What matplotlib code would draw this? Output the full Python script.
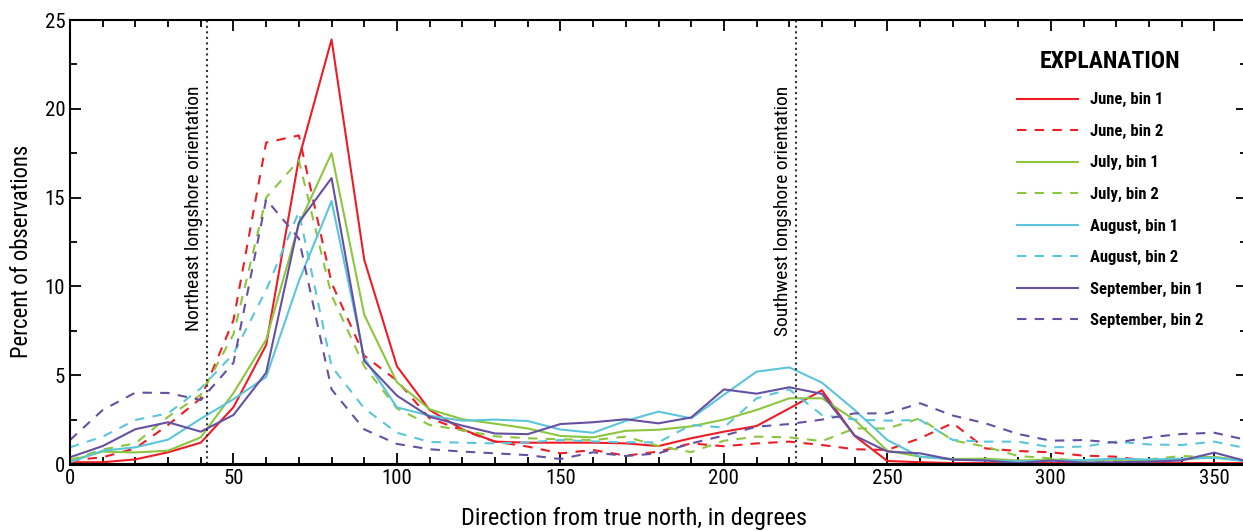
import numpy as np
import matplotlib
matplotlib.use('Agg')
import matplotlib.pyplot as plt
from matplotlib import font_manager
from matplotlib.ticker import MultipleLocator

# Use a condensed face if one is installed, else a narrow-ish one:
installed = set(f.name for f in font_manager.fontManager.ttflist)
condensed_dejavu = any(f.name == 'DejaVu Sans' and str(f.stretch) == 'condensed'
                       for f in font_manager.fontManager.ttflist)
font_choice = 'DejaVu Sans'
for name in ['Liberation Sans Narrow', 'Roboto Condensed', 'DejaVu Sans Condensed']:
    if name in installed:
        font_choice = name
        break
else:
    if condensed_dejavu:
        plt.rcParams['font.stretch'] = 'condensed'
    elif 'Roboto' in installed:
        font_choice = 'Roboto'
plt.rcParams['font.family'] = [font_choice, 'DejaVu Sans']

# Direction bins, every 10 degrees:
directions = list(range(0, 361, 10))

# Percent of observations:
june_bin1 = [0.1, 0.1, 0.26, 0.66, 1.2, 3.2, 6.7, 17.2, 23.9, 11.5,
             5.5, 3.04, 1.95, 1.26, 1.2, 1.2, 1.2, 1.16, 1.01, 1.45,
             1.82, 2.14, 3.13, 4.15, 1.58, 0.17, 0.1, 0.05, 0.05, 0.05,
             0.05, 0.05, 0.05, 0.05, 0.05, 0.05, 0.05]
june_bin2 = [0.2, 0.38, 0.88, 2.2, 3.7, 8.1, 18.1, 18.5, 10.2, 6.1,
             4.7, 2.57, 1.9, 1.26, 0.98, 0.6, 0.79, 0.47, 0.7, 1.16,
             1.0, 1.16, 1.26, 1.07, 0.83, 0.79, 1.45, 2.3, 0.88, 0.73,
             0.66, 0.47, 0.41, 0.17, 0.05, 0.05, 0.05]
july_bin1 = [0.19, 0.7, 0.65, 0.75, 1.5, 4.0, 7.0, 13.5, 17.5, 8.4,
             4.6, 3.08, 2.52, 2.27, 2.0, 1.58, 1.5, 1.87, 1.93, 2.12,
             2.5, 3.04, 3.7, 3.7, 2.48, 0.75, 0.41, 0.28, 0.3, 0.2,
             0.25, 0.2, 0.25, 0.2, 0.25, 0.4, 0.15]
july_bin2 = [0.22, 0.82, 1.16, 2.66, 3.9, 7.3, 15.0, 17.1, 9.5, 5.5,
             3.13, 2.2, 1.9, 1.56, 1.45, 1.39, 1.35, 1.54, 1.01, 0.67,
             1.31, 1.54, 1.5, 1.29, 2.0, 2.0, 2.57, 1.33, 0.98, 0.45,
             0.32, 0.17, 0.19, 0.26, 0.45, 0.38, 0.2]
aug_bin1 = [0.1, 0.75, 0.94, 1.37, 2.55, 3.65, 4.9, 10.3, 14.8, 5.95,
            3.19, 2.72, 2.44, 2.5, 2.42, 1.94, 1.76, 2.43, 2.95, 2.57,
            3.9, 5.2, 5.44, 4.58, 3.04, 1.35, 0.41, 0.25, 0.2, 0.15,
            0.18, 0.22, 0.3, 0.25, 0.3, 0.35, 0.15]
aug_bin2 = [0.94, 1.54, 2.48, 2.85, 4.26, 6.2, 9.8, 14.2, 5.5, 3.13,
            1.76, 1.24, 1.2, 1.16, 1.22, 1.35, 1.27, 1.22, 1.22, 2.2,
            2.05, 3.7, 4.2, 2.76, 2.5, 2.44, 2.48, 1.35, 1.26, 1.26,
            0.94, 0.98, 1.26, 1.1, 1.07, 1.26, 0.88]
sep_bin1 = [0.38, 1.01, 1.96, 2.35, 1.82, 2.76, 5.14, 13.6, 16.1, 5.8,
            3.85, 2.66, 2.16, 1.72, 1.68, 2.25, 2.35, 2.52, 2.29, 2.62,
            4.2, 3.96, 4.32, 3.95, 1.6, 0.7, 0.6, 0.24, 0.2, 0.05,
            0.2, 0.08, 0.1, 0.13, 0.2, 0.64, 0.15]
sep_bin2 = [1.35, 3.04, 4.02, 4.0, 3.6, 5.7, 14.9, 12.7, 4.2, 1.95,
            1.13, 0.83, 0.7, 0.6, 0.5, 0.28, 0.66, 0.45, 0.6, 1.16,
            1.6, 2.1, 2.25, 2.5, 2.85, 2.85, 3.42, 2.73, 2.29, 1.69,
            1.31, 1.35, 1.2, 1.5, 1.69, 1.76, 1.35]

# Longshore orientations:
ne_orientation = 42
sw_orientation = 222

series = [
    ('June, bin 1', june_bin1, '#ee1c25', '-'),
    ('June, bin 2', june_bin2, '#ee1c25', '--'),
    ('July, bin 1', july_bin1, '#8cc63e', '-'),
    ('July, bin 2', july_bin2, '#8cc63e', '--'),
    ('August, bin 1', aug_bin1, '#5bc5dc', '-'),
    ('August, bin 2', aug_bin2, '#5bc5dc', '--'),
    ('September, bin 1', sep_bin1, '#6650a3', '-'),
    ('September, bin 2', sep_bin2, '#6650a3', '--'),
]

fig = plt.figure(figsize=(12.43, 5.31), dpi=100)
ax = fig.add_axes([70 / 1243, 67 / 531, 1177 / 1243, 444 / 531])

for label, vals, color, ls in series:
    line, = ax.plot(directions, vals, color=color, linestyle=ls, lw=1.5, label=label)
    if ls == '--':
        line.set_dashes((4.5, 4))

# Longshore orientation reference lines:
for xpos, txt in [(ne_orientation, 'Northeast longshore orientation'),
                  (sw_orientation, 'Southwest longshore orientation')]:
    ax.axvline(xpos, color='#333333', linestyle=':', lw=1.5)
    ax.text(xpos - 1.2, 21.3, txt, rotation=90, ha='right', va='top', fontsize=14)

ax.set_xlim(0, 360)
ax.set_ylim(0, 25)
ax.xaxis.set_major_locator(MultipleLocator(50))
ax.xaxis.set_minor_locator(MultipleLocator(10))
ax.yaxis.set_major_locator(MultipleLocator(5))
ax.yaxis.set_minor_locator(MultipleLocator(2.5))
ax.tick_params(which='both', direction='in', top=True, right=True, labelsize=15, width=1.3)
ax.tick_params(which='major', length=8)
ax.tick_params(which='minor', length=5)

for side in ['left', 'top', 'right']:
    ax.spines[side].set_linewidth(1.5)
ax.spines['bottom'].set_linewidth(2.2)

ax.set_xlabel('Direction from true north, in degrees', fontsize=17.5, labelpad=14)
ax.xaxis.label.set_x(0.479)
ax.set_ylabel('Percent of observations', fontsize=16.3, labelpad=8)
ax.yaxis.label.set_y(0.48)

leg = ax.legend(loc='upper left', bbox_to_anchor=(1017 / 1243, 1 - 50 / 531),
                bbox_transform=fig.transFigure, frameon=False, borderpad=0,
                borderaxespad=0, title='EXPLANATION', handlelength=3.65,
                handletextpad=0.72, labelspacing=0.99,
                prop={'weight': 'bold', 'size': 12})
leg.get_title().set_fontsize(17)
leg.get_title().set_fontweight('bold')
leg._legend_box.sep = 14

fig.savefig('out.png', dpi=100)
